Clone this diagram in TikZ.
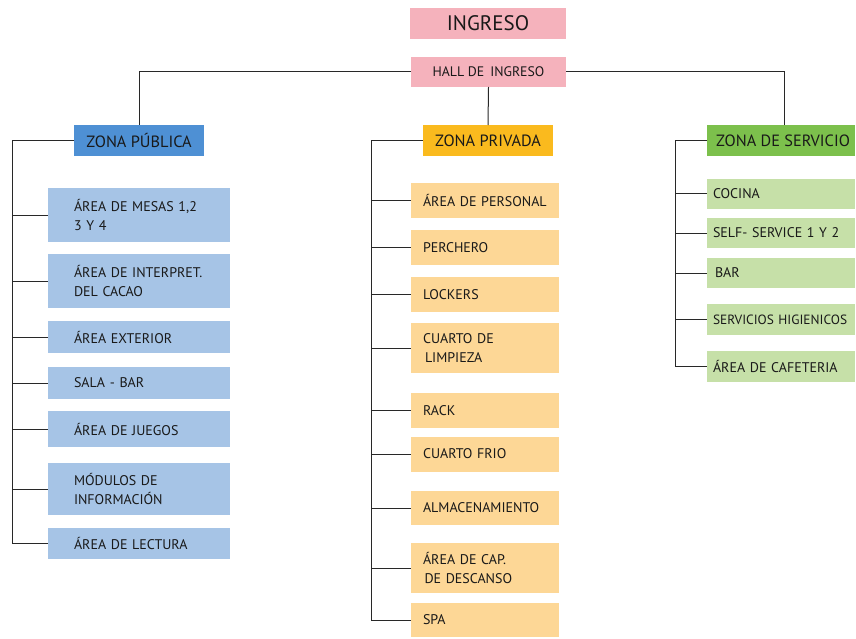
\documentclass[tikz,border=0pt]{standalone}
\usepackage{fontspec}
\setmainfont{PT Sans}
\definecolor{pinkbox}{RGB}{245,178,188}
\definecolor{pubdark}{RGB}{78,144,212}
\definecolor{publight}{RGB}{166,196,230}
\definecolor{privdark}{RGB}{250,186,30}
\definecolor{privlight}{RGB}{253,215,150}
\definecolor{servdark}{RGB}{124,192,76}
\definecolor{servlight}{RGB}{198,224,168}
\definecolor{linecol}{RGB}{40,40,40}
\begin{document}
\begin{tikzpicture}[x=1pt,y=-1pt,
  box/.style={anchor=north west, inner ysep=0pt, outer sep=0pt, align=left, font=\fontsize{14}{18.5}\selectfont, text=black!90},
  head/.style={anchor=north west, inner sep=0pt, outer sep=0pt, align=center, font=\fontsize{16.3}{19}\selectfont, text=black!90},
  conn/.style={draw=linecol, line width=1pt}]
\useasboundingbox (0,0) rectangle (856,639);
% top
\node[head, fill=pinkbox, minimum width=156pt, minimum height=31pt, font=\fontsize{21}{24}\selectfont] (ing) at (410,8) {INGRESO};
\node[head, fill=pinkbox, minimum width=155pt, minimum height=30pt, font=\fontsize{13.8}{16}\selectfont] (hall) at (411,57) {HALL DE \,INGRESO};
% zone heads
\node[head, fill=pubdark, minimum width=130pt, minimum height=31pt] (zp) at (74,125) {ZONA PÚBLICA};
\node[head, fill=privdark, minimum width=130pt, minimum height=31pt] (zv) at (423,125) {ZONA PRIVADA};
\node[head, fill=servdark, minimum width=148pt, minimum height=31pt] (zs) at (707,125) {\hspace*{4pt}ZONA DE SERVICIO};
% public items
\tikzset{pub/.style={box, fill=publight, inner xsep=26pt, text width=130pt}}
\node[pub, minimum height=54pt] (p1) at (48,188) {ÁREA DE MESAS 1,2\\3 Y 4};
\node[pub, minimum height=54pt] (p2) at (48,254) {ÁREA DE INTERPRET.\\DEL CACAO};
\node[pub, minimum height=32pt] (p3) at (48,321) {ÁREA EXTERIOR};
\node[pub, minimum height=32pt] (p4) at (48,367) {SALA - BAR};
\node[pub, minimum height=36pt] (p5) at (48,411) {ÁREA DE JUEGOS};
\node[pub, minimum height=52pt] (p6) at (48,463) {MÓDULOS DE\\INFORMACIÓN};
\node[pub, minimum height=31pt] (p7) at (48,528) {ÁREA DE LECTURA};
% private items
\tikzset{priv/.style={box, fill=privlight, inner xsep=12pt, text width=124pt}}
\node[priv, minimum height=35pt] (v1) at (411,183) {ÁREA DE PERSONAL};
\node[priv, minimum height=35pt] (v2) at (411,230) {PERCHERO};
\node[priv, minimum height=35pt] (v3) at (411,277) {LOCKERS};
\node[priv, minimum height=50pt] (v4) at (411,323) {CUARTO DE\\\hspace*{2pt}LIMPIEZA};
\node[priv, minimum height=35pt] (v5) at (411,393) {RACK};
\node[priv, minimum height=35pt] (v6) at (411,437) {\raisebox{2.5pt}{CUARTO FRIO}};
\node[priv, minimum height=34pt] (v7) at (411,491) {ALMACENAMIENTO};
\node[priv, minimum height=50pt] (v8) at (411,543) {ÁREA DE CAP.\\\hspace*{1.5pt}DE DESCANSO};
\node[priv, minimum height=34pt] (v9) at (411,603) {SPA};
% service items
\tikzset{serv/.style={box, fill=servlight, inner xsep=0pt, text width=148pt, execute at begin node={\hyphenpenalty=10000\hspace*{6pt}}}}
\node[serv, minimum height=30pt] (s1) at (707,179) {COCINA};
\node[serv, minimum height=30pt] (s2) at (707,218) {SELF- SERVICE 1 Y 2};
\node[serv, minimum height=30pt] (s3) at (707,258) {\hspace*{2pt}BAR};
\node[serv, minimum height=31pt, font=\fontsize{13.4}{18}\selectfont] (s4) at (707,304) {SERVICIOS HIGIENICOS};
\node[serv, minimum height=31pt] (s5) at (707,351) {ÁREA DE CAFETERIA};
% spine coordinates
\coordinate (spp) at (12,0);
\coordinate (spv) at (371,0);
\coordinate (sps) at (675,0);
\coordinate (zstop) at (784,125);
% top connectors
\draw[conn] (hall.west) -| (zp.north);
\draw[conn] (hall.east) -| (zstop);
\draw[conn] (hall.south) -- (zv.north);
% public spine
\draw[conn] (zp.west) -| (spp |- p7.west) -- (p7.west);
\foreach \n in {p1,p2,p3,p4,p5,p6} \draw[conn] (spp |- \n.west) -- (\n.west);
% private spine
\draw[conn] (zv.west) -| (spv |- v9.west) -- (v9.west);
\foreach \n in {v1,v2,v3,v4,v5,v6,v7,v8} \draw[conn] (spv |- \n.west) -- (\n.west);
% service spine
\draw[conn] (zs.west) -| (sps |- s5.west) -- (s5.west);
\foreach \n in {s1,s2,s3,s4} \draw[conn] (sps |- \n.west) -- (\n.west);
\end{tikzpicture}
\end{document}
